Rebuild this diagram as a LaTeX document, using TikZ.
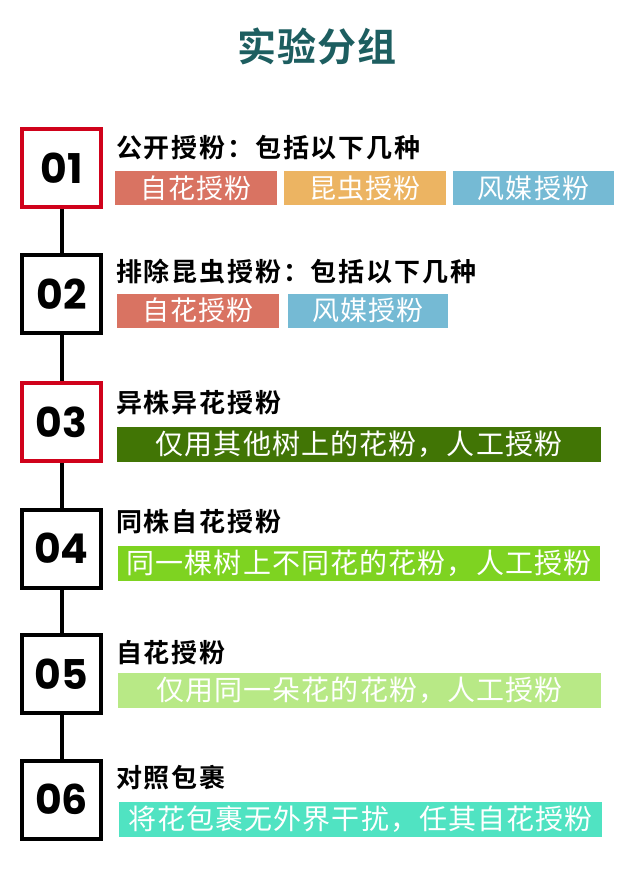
\documentclass[tikz,border=0pt]{standalone}
\usepackage{fontspec}
\newfontfamily\titlefont{Noto Sans CJK SC}[BoldFont={Noto Sans CJK SC Bold},LetterSpace=2]
\newfontfamily\headfont{Noto Sans CJK SC}[BoldFont={Noto Sans CJK SC Bold},LetterSpace=7]
\newfontfamily\tagfont{Noto Sans CJK SC}[LetterSpace=4]
\newfontfamily\numfont{Poppins}[BoldFont={Poppins Bold}]
\definecolor{titlecol}{HTML}{1D5E60}
\definecolor{boxred}{HTML}{D0021B}
\definecolor{tagred}{HTML}{D97362}
\definecolor{tagorange}{HTML}{ECB462}
\definecolor{tagblue}{HTML}{75BAD4}
\definecolor{darkgreen}{HTML}{417505}
\definecolor{midgreen}{HTML}{7ED321}
\definecolor{lightgreen}{HTML}{B8E986}
\definecolor{teal}{HTML}{50E3C2}
\tikzset{
  numbox/.style={draw=black, line width=4pt, fill=white, minimum width=79pt, minimum height=78pt, inner sep=0pt,
    font=\numfont\bfseries\fontsize{41pt}{41pt}\selectfont, text=black},
  redbox/.style={numbox, draw=boxred},
  conn/.style={draw=black, line width=4pt},
  headtext/.style={anchor=west, inner sep=0pt, font=\headfont\bfseries\fontsize{26pt}{26pt}\selectfont, text=black},
  tagbox/.style={inner sep=0pt, minimum height=34pt, text=white, font=\tagfont\fontsize{27pt}{27pt}\selectfont},
  barbox/.style={inner sep=0pt, minimum height=35pt, text=white, font=\tagfont\fontsize{28pt}{28pt}\selectfont},
}
\begin{document}
\begin{tikzpicture}[x=1pt, y=-1pt]
\useasboundingbox[fill=white] (0,0) rectangle (641,893);

\node[font=\titlefont\bfseries\fontsize{39pt}{39pt}\selectfont, text=titlecol, inner sep=0pt] (title) at (317,46) {实验分组};

\node[redbox] (n1) at (61.5,168) {01};
\node[numbox] (n2) at (61.5,294) {02};
\node[redbox] (n3) at (61.5,422) {03};
\node[numbox] (n4) at (61.5,548.5) {04};
\node[numbox] (n5) at (61.5,674) {05};
\node[numbox] (n6) at (61.5,799.5) {06};
\draw[conn] (n1.south) -- (n2.north);
\draw[conn] (n2.south) -- (n3.north);
\draw[conn] (n3.south) -- (n4.north);
\draw[conn] (n4.south) -- (n5.north);
\draw[conn] (n5.south) -- (n6.north);

% headings
\node[headtext] (h1) at (116,148) {公开授粉：包括以下几种};
\node[headtext] (h2) at (116,272) {排除昆虫授粉：包括以下几种};
\node[headtext] (h3) at (116,403) {异株异花授粉};
\node[headtext] (h4) at (116,522) {同株自花授粉};
\node[headtext] (h5) at (116,653) {自花授粉};
\node[headtext] (h6) at (116,778) {对照包裹};

% row 1 tags
\node[tagbox, fill=tagred, minimum width=162pt] (t11) at (196,188) {自花授粉};
\node[tagbox, fill=tagorange, minimum width=162pt] (t12) at (365,188) {昆虫授粉};
\node[tagbox, fill=tagblue, minimum width=161pt] (t13) at (533.5,188) {风媒授粉};
% row 2 tags
\node[tagbox, fill=tagred, minimum width=162pt] (t21) at (198,310.5) {自花授粉};
\node[tagbox, fill=tagblue, minimum width=160pt] (t22) at (368,310.5) {风媒授粉};
% bars
\node[barbox, fill=darkgreen, minimum width=484pt] (b3) at (359,444.5) {仅用其他树上的花粉，人工授粉};
\node[barbox, fill=midgreen, minimum width=482pt] (b4) at (359,563.5) {同一棵树上不同花的花粉，人工授粉};
\node[barbox, fill=lightgreen, minimum width=483pt] (b5) at (359.5,690.5) {仅用同一朵花的花粉，人工授粉};
\node[barbox, fill=teal, minimum width=483pt] (b6) at (360.5,819.5) {将花包裹无外界干扰，任其自花授粉};
\end{tikzpicture}
\end{document}
